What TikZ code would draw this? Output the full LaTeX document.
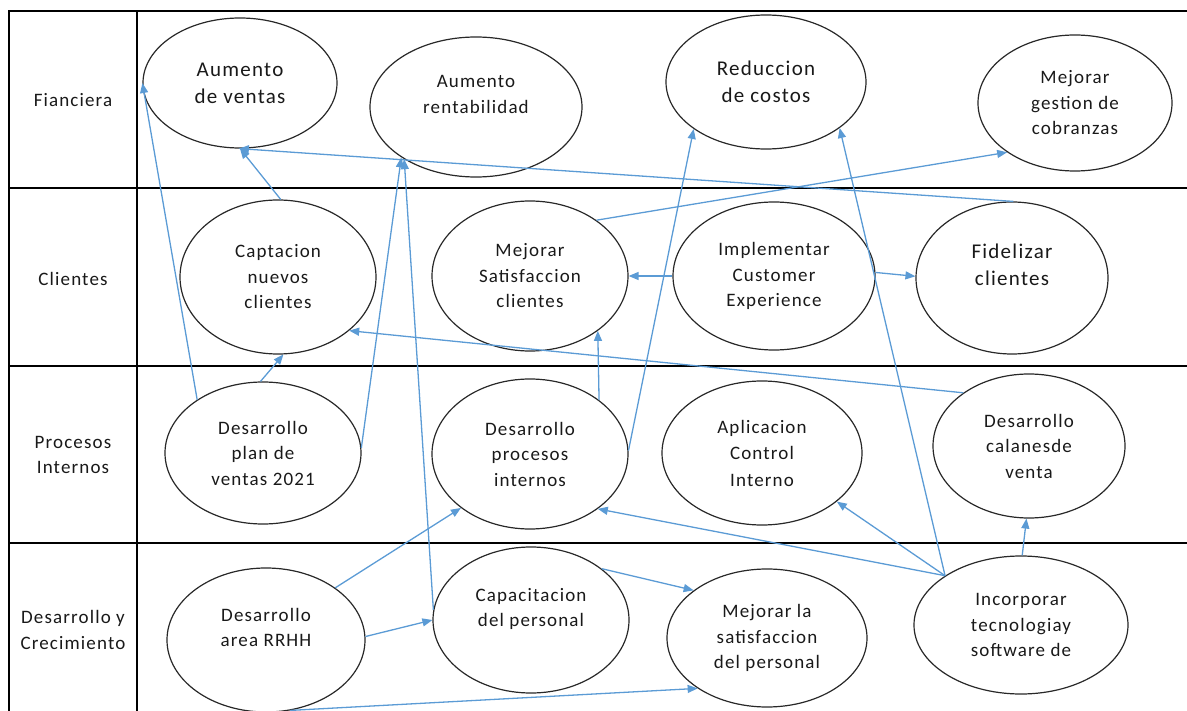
\documentclass[tikz,border=0pt]{standalone}
\usepackage{fontspec}
\setmainfont{Carlito}[LetterSpace=6]
\usetikzlibrary{shapes.geometric,arrows.meta}
\definecolor{linkblue}{RGB}{91,155,213}
\definecolor{rim}{RGB}{40,40,40}
\begin{document}
\begin{tikzpicture}[x=1pt,y=-1pt,
  font=\fontsize{19}{25.5}\selectfont,
  grid/.style={line width=2.6pt,black},
  goal/.style={ellipse,draw=rim,line width=1.2pt,inner sep=0pt,align=center,text=black!90},
  big/.style={font=\fontsize{21}{27}\selectfont},
  sz/.style 2 args={minimum width=#1pt,minimum height=#2pt},
  lab/.style={align=center,text=black!90,inner sep=0pt},
  link/.style={linkblue,line width=1.3pt,-{Triangle[length=10pt,width=8pt]}}]
\useasboundingbox (0,0) rectangle (1187,711);

% perspective grid
\draw[grid] (9,711) -- (9,11) -- (1187,11);
\draw[grid] (137,11) -- (137,711);
\draw[grid] (9,188) -- (1187,188);
\draw[grid] (9,366) -- (1187,366);
\draw[grid] (9,543) -- (1187,543);

% perspective names
\node[lab] (lfin) at (73,100) {Fianciera};
\node[lab] (lcli) at (73,279) {Clientes};
\node[lab] (lpro) at (73,455) {Procesos\\Internos};
\node[lab] (ldes) at (73,630) {Desarrollo y\\Crecimiento};

% financial objectives
\node[goal,big,sz={194}{130}] (ventas) at (240,83) {Aumento\\de ventas};
\node[goal,sz={212}{140}] (rentab) at (476,107) {Aumento\\rentabilidad\\\mbox{}};
\node[goal,big,sz={200}{134}] (costos) at (766,82) {Reduccion\\de costos};
\node[goal,sz={194}{136}] (cobr) at (1075,103) {Mejorar\\gestion de\\cobranzas};

% customer objectives
\node[goal,sz={196}{154}] (capt) at (278,277) {Captacion\\nuevos\\clientes};
\node[goal,sz={196}{150}] (satcli) at (530,276) {Mejorar\\Satisfaccion\\clientes};
\node[goal,sz={202}{148}] (impl) at (774,276) {Implementar\\Customer\\Experience};
\node[goal,big,sz={192}{152}] (fidel) at (1012,278) {Fidelizar\\clientes\\\mbox{}};

% internal process objectives
\node[goal,sz={196}{142}] (plan) at (263,453) {Desarrollo\\plan de\\ventas 2021};
\node[goal,sz={196}{150}] (procint) at (530,454) {Desarrollo\\procesos\\internos};
\node[goal,sz={200}{144},font=\fontsize{19}{26.5}\selectfont] (control) at (762,453) {Aplicacion\\Control\\Interno};
\node[goal,sz={192}{144}] (canales) at (1029,446) {Desarrollo\\calanesde\\venta};

% learning and growth objectives
\node[goal,sz={198}{144}] (rrhh) at (266,640) {Desarrollo\\area RRHH\\\mbox{}};
\node[goal,sz={196}{146}] (capac) at (531,620) {Capacitacion\\del personal\\\mbox{}};
\node[goal,sz={200}{138}] (satpers) at (767,638) {Mejorar la\\satisfaccion\\del personal};
\node[goal,sz={214}{138}] (tecno) at (1021,625) {Incorporar\\tecnologiay\\software de};

% cause-effect links
\draw[link] (plan.141) -- (ventas.180);
\draw[link] (plan.92) -- (capt.274);
\draw[link] (capt.88) -- (ventas.270);
\draw[link] (fidel.89) -- (ventas.269);
\draw[link] (plan.3) -- (rentab.214);
\draw[link] (capac.174) -- (rentab.216);
\draw[link] (satcli.40) -- (cobr.216);
\draw[link] (impl.180) -- (satcli.0);
\draw[link] (impl.2) -- (fidel.179);
\draw[link] (procint.38) -- (satcli.321);
\draw[link] (procint.2) -- (costos.213);
\draw[link] (tecno.147) -- (costos.328);
\draw[link] (canales.141) -- (capt.323);
\draw[link] (tecno.147) -- (procint.321);
\draw[link] (tecno.147) -- (control.327);
\draw[link] (tecno.89) -- (canales.268);
\draw[link] (rrhh.37) -- (procint.218);
\draw[link] (rrhh.2) -- (capac.180);
\draw[link] (rrhh.289) -- (satpers.216);
\draw[link] (capac.36) -- (satpers.147);
\end{tikzpicture}
\end{document}
